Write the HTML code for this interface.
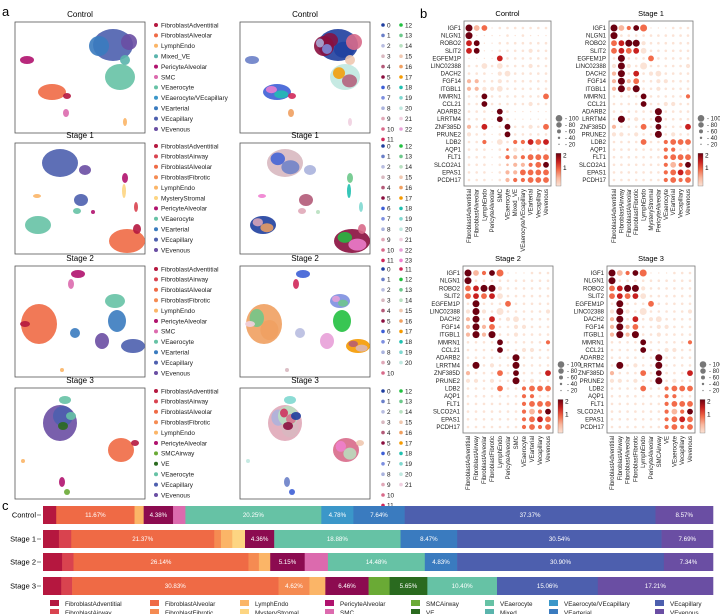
<!DOCTYPE html>
<html><head><meta charset="utf-8"><style>
body{margin:0;background:#fff}
svg{display:block;font-family:"Liberation Sans",sans-serif}
</style></head><body>
<svg id="fig" width="720" height="614" viewBox="0 0 720 614" xmlns="http://www.w3.org/2000/svg">
<text x="2" y="16" font-size="13">a</text>
<text x="420" y="18" font-size="13">b</text>
<text x="2" y="510" font-size="13">c</text>
<g id="umaps"></g><g id="dots"></g><g id="bars"></g>
</svg>
<script>
const NS="http://www.w3.org/2000/svg";
function mk(tag,attrs,parent,txt){const e=document.createElementNS(NS,tag);for(const k in attrs)e.setAttribute(k,attrs[k]);if(txt!==undefined)e.textContent=txt;parent.appendChild(e);return e;}
const COL={FibroblastAdventitial:"#b5173f",FibroblastAirway:"#d9434f",FibroblastAlveolar:"#ef6a45",FibroblastFibrotic:"#f58b52",LymphEndo:"#fbb567",MysteryStromal:"#fdd582",PericyteAlveolar:"#b0126e",SMC:"#dc6aae",SMCAirway:"#6aaa35",VE:"#2a6a1f",VEaerocyte:"#66c2a5",Mixed:"#5ab4ac",Mixed_VE:"#5ab4ac","VEaerocyte/VEcapillary":"#3b97c9",VEarterial:"#3a7bbf",VEcapillary:"#4d5fae",VEvenous:"#6a4ea3"};
const CL=["#1f3f9f","#6a7fc8","#b8bde0","#d8b8c0","#b35a78","#8a0e3e","#3d5fd6","#7d8fe0","#aab3dd","#e0a8b8","#d86a8a","#d0285a","#22c040","#6cc88a","#b8e0c0","#f0c8b0","#f0a060","#f59a00","#20c0b0","#80d8d0","#c0e8e0","#f0d0e0","#e8a0d8","#f080d0"];

// ---------- Panel a: UMAPs ----------
const stages=["Control","Stage 1","Stage 2","Stage 3"];
const boxY=[22,143,266,388];
const legendsA=[
["FibroblastAdventitial","FibroblastAlveolar","LymphEndo","Mixed_VE","PericyteAlveolar","SMC","VEaerocyte","VEaerocyte/VEcapillary","VEarterial","VEcapillary","VEvenous"],
["FibroblastAdventitial","FibroblastAirway","FibroblastAlveolar","FibroblastFibrotic","LymphEndo","MysteryStromal","PericyteAlveolar","VEaerocyte","VEarterial","VEcapillary","VEvenous"],
["FibroblastAdventitial","FibroblastAirway","FibroblastAlveolar","FibroblastFibrotic","LymphEndo","PericyteAlveolar","SMC","VEaerocyte","VEarterial","VEcapillary","VEvenous"],
["FibroblastAdventitial","FibroblastAirway","FibroblastAlveolar","FibroblastFibrotic","LymphEndo","PericyteAlveolar","SMCAirway","VE","VEaerocyte","VEcapillary","VEvenous"]];
const clusterCounts=[[12,11],[12,12],[11,10],[12,10]];
// blobs: [cx,cy,rx,ry,type] relative to box top-left
const blobs=[
[[98,23,20,16,"VEcapillary"],[84,24,10,10,"VEarterial"],[114,20,8,8,"VEvenous"],[110,38,5,5,"Mixed_VE"],[105,55,15,13,"VEaerocyte"],[12,38,7,4,"PericyteAlveolar"],[37,70,14,8,"FibroblastAlveolar"],[52,74,4,3,"FibroblastAdventitial"],[51,91,3,4,"SMC"],[110,100,2,4,"LymphEndo"]],
[[45,20,18,14,"VEcapillary"],[70,27,6,5,"VEvenous"],[110,35,3,5,"PericyteAlveolar"],[109,48,2,7,"MysteryStromal"],[22,53,4,2,"LymphEndo"],[66,57,7,6,"VEcapillary"],[62,68,4,3,"VEaerocyte"],[78,69,2,2,"PericyteAlveolar"],[121,64,2,5,"FibroblastAirway"],[23,82,13,9,"VEaerocyte"],[112,98,18,12,"FibroblastAlveolar"],[122,86,4,5,"FibroblastAdventitial"]],
[[63,8,7,4,"PericyteAlveolar"],[56,18,3,5,"SMC"],[24,58,18,20,"FibroblastAlveolar"],[10,58,5,3,"FibroblastAdventitial"],[60,67,5,5,"VEarterial"],[100,35,10,7,"VEaerocyte"],[102,55,9,11,"VEarterial"],[118,80,12,7,"VEcapillary"],[87,75,7,8,"VEvenous"],[47,104,2,2,"LymphEndo"]],
[[45,35,17,18,"VEvenous"],[48,28,10,10,"VEcapillary"],[50,12,6,4,"VEaerocyte"],[56,28,5,4,"VEaerocyte"],[48,38,5,4,"VE"],[106,62,13,12,"FibroblastAlveolar"],[120,55,4,3,"FibroblastAdventitial"],[8,73,2,2,"LymphEndo"],[47,94,3,5,"PericyteAlveolar"],[52,104,3,3,"SMCAirway"]]];
const ua=document.getElementById("umaps");
stages.forEach((st,i)=>{
  const y0=boxY[i];
  [15,240].forEach((bx,j)=>{
    const g=mk("g",{},ua);
    
    
    mk("text",{x:bx+65,y:y0-5,"font-size":8,"text-anchor":"middle"},g,st);
    mk("rect",{x:bx,y:y0,width:130,height:111,fill:"#fff",stroke:"#555","stroke-width":0.8},g);
    blobs[i].forEach((b,k)=>{
      const c=j?CL[(k*5+i*3)%CL.length]:COL[b[4]];
      mk("ellipse",{cx:bx+b[0],cy:y0+b[1],rx:b[2],ry:b[3],fill:c,opacity:0.9},g);
      if(j&&b[2]>9){mk("ellipse",{cx:bx+b[0]+b[2]*0.3,cy:y0+b[1]+b[3]*0.3,rx:b[2]*0.5,ry:b[3]*0.5,fill:CL[(k*7+i)%CL.length],opacity:0.85},g);
        mk("ellipse",{cx:bx+b[0]-b[2]*0.4,cy:y0+b[1]-b[3]*0.3,rx:b[2]*0.4,ry:b[3]*0.45,fill:CL[(k*3+5+i)%CL.length],opacity:0.85},g);}
    });
  });
  const ly=y0+3;
  legendsA[i].forEach((n,k)=>{
    const e=mk("g",{},ua);
    
    
    mk("circle",{cx:156,cy:ly+k*10.4,r:2,fill:COL[n]},e);
    mk("text",{x:161,y:ly+k*10.4+2.3,"font-size":6.4,fill:"#222"},e,n);
  });
  const cc=clusterCounts[i];let n=0;
  [0,1].forEach(col=>{for(let k=0;k<cc[col];k++){
    const e=mk("g",{},ua);
    
    
    const x=col?401:383;
    mk("circle",{cx:x,cy:ly+k*10.4,r:1.8,fill:CL[n]},e);
    mk("text",{x:x+4,y:ly+k*10.4+2.3,"font-size":6.4,fill:"#222"},e,String(n));n++;}});
});

// ---------- Panel b: dot plots ----------
const genes=["IGF1","NLGN1","ROBO2","SLIT2","EGFEM1P","LINC02388","DACH2","FGF14","ITGBL1","MMRN1","CCL21","ADARB2","LRRTM4","ZNF385D","PRUNE2","LDB2","AQP1","FLT1","SLCO2A1","EPAS1","PCDH17"];
const ctrlCols=["FibroblastAdventitial","FibroblastAlveolar","LymphEndo","PericyteAlveolar","SMC","VEaerocyte","Mixed_VE","VEaerocyte/VEcapillary","VEarterial","Vecapillary","Vevenous"];
const s1Cols=["FibroblastAdventitial","FibroblastAirway","FibroblastAlveolar","FibroblastFibrotic","LymphEndo","MysteryStromal","PericyteAlveolar","VEaerocyte","VEarterial","Vecapillary","Vevenous"];
const s2Cols=["FibroblastAdventitial","FibroblastAirway","FibroblastAlveolar","FibroblastFibrotic","LymphEndo","PericyteAlveolar","SMC","VEaerocyte","VEarterial","Vecapillary","Vevenous"];
const s3Cols=["FibroblastAdventitial","FibroblastAirway","FibroblastAlveolar","FibroblastFibrotic","LymphEndo","PericyteAlveolar","SMCAirway","VE","VEaerocyte","Vecapillary","Vevenous"];
const ctrlSize=["43301111111","40000101000","33001111111","33001111211","00003111111","11313111211","11102311111","22112111111","22223111111","11311111113","11311111211","11103100000","11103100000","21301311213","21101311111","11203122333","11101121111","11101222333","11101122233","11101223333","11101222333"];
const ctrlColor=["41200000000","40000000000","34000000000","34000000000","00003000000","00000000000","00000000000","11000000000","11000000000","00400000002","00400000000","00004000000","00004000000","10300400002","00000400000","00200022323","00000200000","00000212222","00000111224","00000112222","00000122222"];
const stSize=["43234000111","41111111111","33442111111","33333111111","14111311111","24214111112","24131231111","24231122111","24241121111","11113111112","11113112211","11111141111","14121141111","21113131113","22121141211","11113112333","11111112211","11111112333","11111112323","11111112333","11111112323"];
const stColor=["41242000000","40000000000","23440000000","23230000000","04000200000","04000000000","14030000000","14120000000","14140000000","00004000002","00004000000","00000040000","04000040000","10002040003","00000040000","00002002222","00000002200","00000002222","00000002124","00000002232","00000002222"];
const sizeTicks=["100","80","60","40","20"];
const RAD=[0.7,1.3,2.1,2.9,3.5];
const REDS=["#fbe3d6","#f9b79e","#f26b4a","#c8201f","#6b0010"];
const plots=[
{t:"Control",x0:464,x1:551,y0:21,y1:186,cols:ctrlCols,s:ctrlSize,c:ctrlColor},
{t:"Stage 1",x0:609,x1:693,y0:21,y1:186,cols:s1Cols,s:stSize,c:stColor},
{t:"Stage 2",x0:463,x1:553,y0:266,y1:433,cols:s2Cols,s:stSize,c:stColor},
{t:"Stage 3",x0:607,x1:695,y0:266,y1:433,cols:s3Cols,s:stSize,c:stColor}];
const dg=document.getElementById("dots");
const defs=mk("defs",{},dg);
const lg=mk("linearGradient",{id:"rg",x1:0,y1:1,x2:0,y2:0},defs);
REDS.forEach((c,i)=>mk("stop",{offset:i/4,"stop-color":c},lg));
plots.forEach(p=>{
  const g=mk("g",{},dg);
  
  
  const xs=i=>p.x0+5+i*(p.x1-p.x0-10)/(p.cols.length-1);
  const ys=i=>p.y0+7+i*(p.y1-p.y0-13)/(genes.length-1);
  mk("text",{x:(p.x0+p.x1)/2,y:p.y0-5,"font-size":7.5,"text-anchor":"middle"},g,p.t);
  mk("rect",{x:p.x0,y:p.y0,width:p.x1-p.x0,height:p.y1-p.y0,fill:"#fff",stroke:"#777","stroke-width":0.8},g);
  genes.forEach((gn,r)=>{
    const t=mk("text",{x:p.x0-3,y:ys(r)+2,"font-size":6,"text-anchor":"end",fill:"#222"},g,gn);
    
    
    for(let c=0;c<p.cols.length;c++){
      const d=mk("circle",{cx:xs(c),cy:ys(r),r:RAD[+p.s[r][c]],fill:REDS[+p.c[r][c]]},g);
      
      
    }
  });
  p.cols.forEach((cn,c)=>{
    const t=mk("text",{x:0,y:0,"font-size":6,"text-anchor":"end",fill:"#222",transform:`translate(${xs(c)+2},${p.y1+3}) rotate(-90)`},g,cn);
    
    
  });
  const lx=p.x1+5, ly=p.y0+(p.y1-p.y0)*0.59;
  sizeTicks.forEach((s,i)=>{
    mk("circle",{cx:lx+3,cy:ly+i*6.5,r:RAD[4-i]*0.95,fill:"#777"},g);
    mk("text",{x:lx+9,y:ly+i*6.5+2,"font-size":6,fill:"#222"},g,"- "+s);
  });
  const cy0=ly+35,ch=p.y1-cy0;
  mk("rect",{x:lx,y:cy0,width:5,height:ch,fill:"url(#rg)",stroke:"#555","stroke-width":0.3},g);
  mk("text",{x:lx+7,y:cy0+4,"font-size":6.5},g,"2");
  mk("text",{x:lx+7,y:cy0+ch*0.45+2,"font-size":6.5},g,"1");
});

// ---------- Panel c: stacked bars ----------
const barStages=["Control","Stage 1","Stage 2","Stage 3"];
const barTypes=[
["FibroblastAdventitial","FibroblastAlveolar","LymphEndo","PericyteAlveolar","SMC","VEaerocyte","VEaerocyte/VEcapillary","VEarterial","VEcapillary","VEvenous"],
["FibroblastAdventitial","FibroblastAirway","FibroblastAlveolar","FibroblastFibrotic","LymphEndo","MysteryStromal","PericyteAlveolar","VEaerocyte","VEarterial","VEcapillary","VEvenous"],
["FibroblastAdventitial","FibroblastAirway","FibroblastAlveolar","FibroblastFibrotic","LymphEndo","PericyteAlveolar","SMC","VEaerocyte","VEarterial","VEcapillary","VEvenous"],
["FibroblastAdventitial","FibroblastAirway","FibroblastAlveolar","FibroblastFibrotic","LymphEndo","PericyteAlveolar","SMCAirway","VE","VEaerocyte","VEcapillary","VEvenous"]];
const barValues=[
[1.97,11.67,1.36,4.38,1.84,20.25,4.78,7.64,37.37,8.57],
[2.38,1.84,21.37,1.0,1.7,1.9,4.36,18.88,8.47,30.54,7.69],
[2.86,1.7,26.14,1.56,1.7,5.15,3.47,14.48,4.83,30.90,7.34],
[2.72,1.63,30.83,4.62,2.38,6.46,3.13,5.65,10.40,15.06,17.21]];
const BARCOL={...COL,PericyteAlveolar:"#8c0b50"};
const bg=document.getElementById("bars");
const bx0=43,bw=670,barY=[506,530,553,577],bh=18;
barStages.forEach((s,i)=>{
  const tot=barValues[i].reduce((a,b)=>a+b,0);
  const t=mk("text",{x:36,y:barY[i]+bh/2+2.5,"font-size":7.5,"text-anchor":"end"},bg,s);
  
  
  mk("line",{x1:37,x2:41,y1:barY[i]+bh/2,y2:barY[i]+bh/2,stroke:"#333","stroke-width":0.6},bg);
  let x=bx0;
  barValues[i].forEach((v,k)=>{
    const w=v/tot*bw;
    const r=mk("rect",{x:x,y:barY[i],width:w+0.3,height:bh,fill:BARCOL[barTypes[i][k]]},bg);
    
    
    if(v>=4.3){mk("text",{x:x+w/2,y:barY[i]+bh/2+2.2,"font-size":6.2,"text-anchor":"middle",fill:"#fff"},bg,v.toFixed(2)+"%");}
    x+=w;
  });
});
const legC=[["FibroblastAdventitial","FibroblastAirway"],["FibroblastAlveolar","FibroblastFibrotic"],["LymphEndo","MysteryStromal"],["PericyteAlveolar","SMC"],["SMCAirway","VE"],["VEaerocyte","Mixed"],["VEaerocyte/VEcapillary","VEarterial"],["VEcapillary","VEvenous"]];
const legX=[50,150,240,325,411,485,549,655];
legC.forEach((pair,c)=>pair.forEach((n,r)=>{
  const e=mk("g",{},bg);
  
  
  mk("rect",{x:legX[c],y:600+r*9,width:9,height:6,fill:n==="PericyteAlveolar"?"#b0126e":COL[n]},e);
  mk("text",{x:legX[c]+15,y:606+r*9,"font-size":6.3,fill:"#222"},e,n);
}));
</script>
</body></html>
